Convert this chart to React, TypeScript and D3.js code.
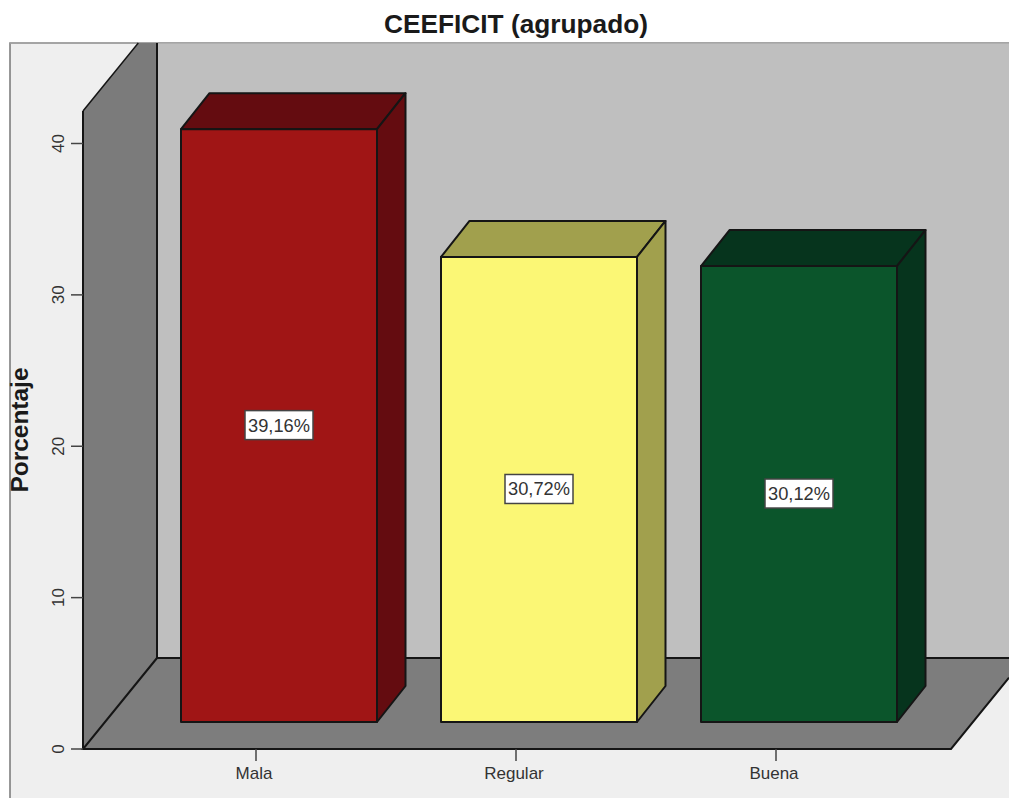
import * as d3 from 'd3';

const categories = ['Mala', 'Regular', 'Buena'];
const percentages = [39.16, 30.72, 30.12];
const percentLabels = ['39,16%', '30,72%', '30,12%'];
const frontColors = ['#a01515', '#fbf775', '#0b552b'];
const topColors = ['#640c10', '#a1a04d', '#06341d'];
const yTicks = [0, 10, 20, 30, 40];

const width = 1009;
const height = 798;
const font = '"Liberation Sans", Arial, sans-serif';
const lineColor = '#151515';

// plano del grafico
const plot = { left: 83, bottom: 749, top: 43, frameLeft: 10 };
const floorDepth = { dx: 74, dy: -91 };
const barDepth = { dx: 28.5, dy: -36 };
const barBase = 27; // las barras empiezan dentro del suelo
const floorRight = 951;
const wallTop = 111;

const y = d3.scaleLinear().domain([0, 40]).range([plot.bottom, 143.5]);
const x = d3.scaleBand<string>()
  .domain(categories)
  .range([181, 897])
  .paddingInner(64 / 260)
  .paddingOuter(0);

const poly = (pts: [number, number][]) => d3.line()(pts) + 'Z';

export default function App() {
  const backX = plot.left + floorDepth.dx;
  const backY = plot.bottom + floorDepth.dy;
  const slope = floorDepth.dx / floorDepth.dy;
  const wallTopX = plot.left + (plot.top - wallTop) * slope;
  const floorEndY = plot.bottom + (width - floorRight) / slope;

  return (
    <svg width={width} height={height} style={{ position: 'absolute', left: 0, top: 0, display: 'block' }}>
      <rect width={width} height={height} fill="#fff" />
      <text x={516} y={33} textAnchor="middle" fontFamily={font} fontWeight="bold" fontSize={25} textLength={264} lengthAdjust="spacingAndGlyphs" fill="#1a1a1a">
        CEEFICIT (agrupado)
      </text>

      {/* fondo y marco */}
      <rect x={plot.frameLeft} y={plot.top} width={width} height={height} fill="#efefef" stroke="#777" strokeWidth={1.5} />
      <rect x={backX} y={plot.top} width={width - backX} height={backY - plot.top} fill="#bfbfbf" />
      <line x1={plot.frameLeft} x2={width} y1={plot.top} y2={plot.top} stroke="#aaa" strokeWidth={1.5} />

      {/* pared lateral */}
      <path
        d={poly([[plot.left, plot.bottom], [plot.left, wallTop], [wallTopX, plot.top], [backX, plot.top], [backX, backY]])}
        fill="#7b7b7b"
      />
      <line x1={plot.left} x2={plot.left} y1={plot.bottom} y2={wallTop} stroke={lineColor} strokeWidth={2} />
      <line x1={plot.left} x2={wallTopX} y1={wallTop} y2={plot.top} stroke={lineColor} strokeWidth={1.5} />
      <line x1={backX} x2={backX} y1={plot.top} y2={backY} stroke={lineColor} strokeWidth={2} />

      {/* suelo */}
      <path
        d={poly([[plot.left, plot.bottom], [backX, backY], [width, backY], [width, floorEndY], [floorRight, plot.bottom]])}
        fill="#7d7d7d"
      />
      <path
        d={d3.line()([[backX, backY], [width, backY]])!}
        fill="none" stroke={lineColor} strokeWidth={2}
      />
      <path
        d={d3.line()([[backX, backY], [plot.left, plot.bottom], [floorRight, plot.bottom], [width, floorEndY]])!}
        fill="none" stroke={lineColor} strokeWidth={2}
      />

      {/* eje y */}
      {yTicks.map((t) => (
        <g key={t}>
          <line x1={plot.left - 12} x2={plot.left} y1={y(t)} y2={y(t)} stroke="#444" strokeWidth={1.5} />
          <text
            transform={`translate(64,${y(t)}) rotate(-90)`}
            textAnchor="middle"
            fontFamily={font}
            fontSize={17}
            fill="#333"
          >
            {t}
          </text>
        </g>
      ))}
      <text
        transform={`translate(28,430) rotate(-90)`}
        textAnchor="middle"
        fontFamily={font}
        fontWeight="bold"
        fontSize={23}
        textLength={125}
        lengthAdjust="spacingAndGlyphs"
        fill="#1a1a1a"
      >
        Porcentaje
      </text>

      {/* barras */}
      {categories.map((c, i) => {
        const x0 = x(c)!;
        const x1 = x0 + x.bandwidth();
        const base = plot.bottom - barBase;
        const top = base - (y(0) - y(percentages[i]));
        const { dx, dy } = barDepth;
        return (
          <g key={c} stroke={lineColor} strokeWidth={2} strokeLinejoin="round">
            <path d={poly([[x0, top], [x0 + dx, top + dy], [x1 + dx, top + dy], [x1, top]])} fill={topColors[i]} />
            <path d={poly([[x1, top], [x1 + dx, top + dy], [x1 + dx, base + dy], [x1, base]])} fill={topColors[i]} />
            <rect x={x0} y={top} width={x.bandwidth()} height={base - top} fill={frontColors[i]} />
          </g>
        );
      })}

      {/* etiquetas de datos */}
      {categories.map((c, i) => {
        const cx = x(c)! + x.bandwidth() / 2;
        const base = plot.bottom - barBase;
        const cy = base - (y(0) - y(percentages[i])) / 2;
        return (
          <g key={c}>
            <rect x={cx - 34} y={cy - 15} width={68} height={29} fill="#fff" stroke="#444" strokeWidth={1.5} />
            <text x={cx} y={cy + 6} textAnchor="middle" fontFamily={font} fontSize={18} textLength={62} lengthAdjust="spacingAndGlyphs" fill="#333">
              {percentLabels[i]}
            </text>
          </g>
        );
      })}

      {/* eje x */}
      {categories.map((c) => {
        const cx = x(c)! + x.bandwidth() / 2 - 23;
        return (
          <g key={c}>
            <line x1={cx} x2={cx} y1={plot.bottom} y2={plot.bottom + 12} stroke="#444" strokeWidth={1.5} />
            <text x={cx - 2} y={779} textAnchor="middle" fontFamily={font} fontSize={17} fill="#333">
              {c}
            </text>
          </g>
        );
      })}
    </svg>
  );
}
